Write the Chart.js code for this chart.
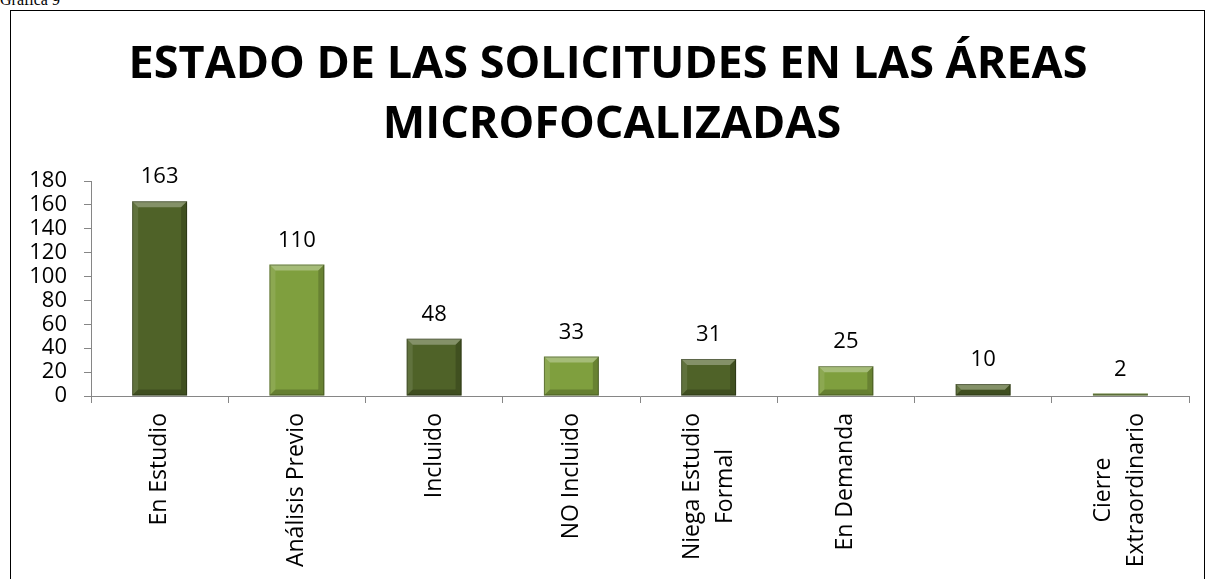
<!DOCTYPE html>
<html>
<head>
<meta charset="utf-8">
<script src="https://cdn.jsdelivr.net/npm/chart.js@4.4.1/dist/chart.umd.min.js"></script>
<style>
  body { margin: 0; background: #fff; overflow: hidden; }
  #caption { position: absolute; left: 0; top: -9px; font: 16px "Liberation Serif", serif; color: #000; }
  #frame { position: absolute; left: 10px; top: 10px; width: 1193px; height: 620px; border: 1px solid #000; }
  #wrap { position: absolute; left: 0; top: 0; width: 1205px; height: 579px; }
</style>
</head>
<body>
<div id="caption">Gráfica 9</div>
<div id="frame"></div>
<div id="wrap"><canvas id="chart"></canvas></div>
<script>
// Chart data
const titleLines = ['ESTADO DE LAS SOLICITUDES EN LAS ÁREAS', 'MICROFOCALIZADAS'];
const categories = [
    'En Estudio',
    'Análisis Previo',
    'Incluido',
    'NO Incluido',
    ['Niega Estudio', 'Formal'],
    'En Demanda',
    '',
    ['Cierre', 'Extraordinario']
];
const solicitudes = [163, 110, 48, 33, 31, 25, 10, 2];
const yTicks = [0, 20, 40, 60, 80, 100, 120, 140, 160, 180];

const DARK = '#4f6228';
const LIGHT = '#7f9f3e';
const barColors = solicitudes.map((v, i) => i % 2 === 0 ? DARK : LIGHT);
const FONT = '"Open Sans", sans-serif';

// Title drawn at a fixed center like the original
const titlePlugin = {
    id: 'bigTitle',
    afterDraw(chart) {
        const ctx = chart.ctx;
        ctx.save();
        ctx.fillStyle = '#000';
        ctx.textAlign = 'center';
        ctx.textBaseline = 'alphabetic';
        ctx.font = 'bold 45px ' + FONT;
        ctx.fillText(titleLines[0], 608, 78);
        ctx.fillText(titleLines[1], 612, 138);
        ctx.restore();
    }
};

// Rotated category labels, lines centered on each other (like Excel)
const catLabelPlugin = {
    id: 'catLabels',
    afterDraw(chart) {
        const ctx = chart.ctx;
        const xScale = chart.scales.x;
        const top = xScale.top + 17;
        const lineH = 33;
        ctx.save();
        ctx.fillStyle = '#000';
        ctx.font = '23px ' + FONT;
        ctx.textAlign = 'center';
        ctx.textBaseline = 'middle';
        categories.forEach((label, i) => {
            const lines = Array.isArray(label) ? label : [label];
            const x = xScale.getPixelForTick(i);
            const maxW = Math.max(...lines.map(l => ctx.measureText(l).width));
            lines.forEach((line, j) => {
                const lx = x + (j - (lines.length - 1) / 2) * lineH;
                ctx.save();
                ctx.translate(lx, top);
                ctx.rotate(-Math.PI / 2);
                ctx.fillText(line, -maxW / 2, 0);
                ctx.restore();
            });
        });
        ctx.restore();
    }
};

// Bevel look on each bar + value labels
const bevelPlugin = {
    id: 'bevel',
    afterDatasetsDraw(chart) {
        const ctx = chart.ctx;
        const meta = chart.getDatasetMeta(0);
        ctx.save();
        meta.data.forEach((bar, i) => {
            const w = bar.width;
            const x0 = bar.x - w / 2, x1 = bar.x + w / 2;
            const y0 = bar.y, y1 = bar.base;
            const h = y1 - y0;
            const b = Math.min(6, h / 2);

            // top edge (light)
            ctx.fillStyle = 'rgba(255,255,255,0.3)';
            ctx.beginPath();
            ctx.moveTo(x0, y0); ctx.lineTo(x1, y0);
            ctx.lineTo(x1 - b, y0 + b); ctx.lineTo(x0 + b, y0 + b);
            ctx.closePath(); ctx.fill();
            // left edge
            ctx.fillStyle = 'rgba(255,255,255,0.1)';
            ctx.beginPath();
            ctx.moveTo(x0, y0); ctx.lineTo(x0 + b, y0 + b);
            ctx.lineTo(x0 + b, y1 - b); ctx.lineTo(x0, y1);
            ctx.closePath(); ctx.fill();
            // right edge
            ctx.fillStyle = 'rgba(0,0,0,0.18)';
            ctx.beginPath();
            ctx.moveTo(x1, y0); ctx.lineTo(x1 - b, y0 + b);
            ctx.lineTo(x1 - b, y1 - b); ctx.lineTo(x1, y1);
            ctx.closePath(); ctx.fill();
            // bottom edge
            ctx.fillStyle = 'rgba(0,0,0,0.2)';
            ctx.beginPath();
            ctx.moveTo(x0, y1); ctx.lineTo(x0 + b, y1 - b);
            ctx.lineTo(x1 - b, y1 - b); ctx.lineTo(x1, y1);
            ctx.closePath(); ctx.fill();
            // thin dark outline
            ctx.strokeStyle = 'rgba(0,0,0,0.3)';
            ctx.lineWidth = 1;
            ctx.strokeRect(x0 + 0.5, y0 + 0.5, w - 1, Math.max(h - 1, 0));

            // value label
            ctx.fillStyle = '#000';
            ctx.font = '22px ' + FONT;
            ctx.textAlign = 'center';
            ctx.textBaseline = 'alphabetic';
            ctx.fillText(String(solicitudes[i]), bar.x, y0 - 18);
        });
        ctx.restore();
    }
};

document.addEventListener('DOMContentLoaded', function() {
    const ctx = document.getElementById('chart').getContext('2d');
    new Chart(ctx, {
        type: 'bar',
        data: {
            labels: categories,
            datasets: [{
                data: solicitudes,
                backgroundColor: barColors,
                borderWidth: 0,
                categoryPercentage: 1,
                barPercentage: 0.4
            }]
        },
        options: {
            responsive: true,
            maintainAspectRatio: false,
            animation: false,
            layout: { padding: { top: 181, left: 0, right: 16, bottom: 0 } },
            plugins: {
                legend: { display: false },
                tooltip: { enabled: false }
            },
            scales: {
                x: {
                    afterFit(scale) { scale.height = 183; },
                    grid: { drawOnChartArea: false, tickLength: 7, color: '#868686', offset: true },
                    border: { color: '#868686' },
                    ticks: { display: false, autoSkip: false }
                },
                y: {
                    min: 0,
                    max: 180,
                    afterFit(scale) { scale.width = 91; },
                    afterBuildTicks(scale) { scale.ticks = yTicks.map(v => ({ value: v })); },
                    grid: { drawOnChartArea: false, tickLength: 7, color: '#868686' },
                    border: { color: '#868686' },
                    ticks: {
                        autoSkip: false,
                        padding: 17,
                        color: '#000',
                        font: { family: FONT, size: 22 }
                    }
                }
            }
        },
        plugins: [titlePlugin, bevelPlugin, catLabelPlugin]
    });
});
</script>
</body>
</html>
